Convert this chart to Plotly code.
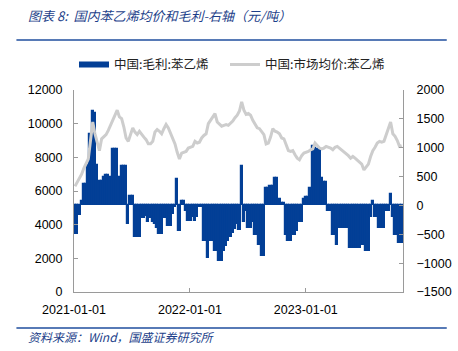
import pandas as pd
import plotly.graph_objects as go

# weekly observations
dates = pd.date_range(start="2021-01-04", periods=148, freq="7D")

price = [6280, 6500, 6770, 7000, 7350, 7600, 7900, 9000, 10100, 9400,
         8800, 8400, 9100, 9200, 9350, 9600, 9900, 10100, 10450, 10800,
         10400, 10300, 9800, 9150, 8950, 9300, 9750, 9500, 9350, 9550,
         9350, 9200, 9050, 8800, 8800, 8950, 9500, 9650, 9550, 9400,
         9700, 9950, 9750, 9450, 9150, 8800, 8300, 7900, 8250, 8300,
         8350, 8550, 8600, 8650, 8950, 8850, 8900, 9150, 9300, 9400,
         10000, 10200, 10400, 10600, 10100, 9950, 9850, 9900, 9950, 9900,
         10000, 10150, 10350, 10500, 10750, 11300, 10800, 10550, 10600, 10500,
         10200, 10000, 9750, 9700, 9500, 9350, 8800, 8850, 9200, 9700,
         9550, 9500, 9400, 9150, 9100, 8750, 8400, 8350, 8400, 8150,
         7950, 7850, 8100, 8250, 8300, 8350, 8450, 8500, 8850, 8700,
         8550, 8500, 8550, 8650, 8600, 8550, 8450, 8600, 8650, 8550,
         8450, 8350, 8250, 8100, 7950, 8050, 7950, 7850, 7750, 7600,
         7250, 7400, 7600, 8050, 8400, 8600, 8850, 8950, 8900, 8950,
         9300, 9700, 10100, 9400, 9250, 9000, 8650, 8700]

margin = [-500, -500, -160, 80, 370, 370, 700, 1230, 1630, 1600,
          700, 420, 420, 500, 530, 530, 500, 970, 970, 970,
          500, 680, 680, 680, -320, 160, 160, -550, -550, -550,
          -220, -220, -180, -290, -220, -280, -330, -390, -500, -500,
          -220, -220, -360, -360, -150, -30, 450, -450, 80, 80,
          -100, -270, -270, -200, -270, -200, -30, -30, -620, -620,
          -910, -620, -620, -790, -790, -970, -970, -790, -700, -620,
          -550, -480, -400, -320, -420, 680, -280, -100, -390, -390,
          -280, -510, -510, -680, -880, -880, 300, 300, 330, 330,
          480, 480, 120, 50, 50, -510, -620, -620, -510, -510,
          -450, -280, -280, 120, 150, 150, 300, 1030, 1000, 970,
          970, 480, 400, 400, -100, -100, -510, -510, -680, -390,
          -390, -390, -390, -390, -740, -740, -740, -740, -740, -680,
          -680, -790, -790, -200, 80, -200, -200, -390, -390, -390,
          -100, -100, 190, -200, -510, -510, -650, -650]

name_margin = "中国:毛利:苯乙烯"
name_price = "中国:市场均价:苯乙烯"
title_text = "图表 8:  国内苯乙烯均价和毛利-右轴（元/吨）"
source_text = "资料来源：Wind，国盛证券研究所"

BLUE = "#033f96"
GRAY = "#cdcdcd"
AXIS = "#9a9a9a"
TXT_BLUE = "#1d3f8a"
CJK = "Noto Sans CJK SC"
NUM = "Liberation Sans"

fig = go.Figure()
fig.add_trace(go.Bar(x=dates, y=margin, marker=dict(color=BLUE, line=dict(width=1.2, color=BLUE)),
                     yaxis="y", showlegend=False, name=name_margin))
fig.add_trace(go.Scatter(x=dates, y=price, mode="lines", line=dict(color=GRAY, width=3),
                         yaxis="y2", showlegend=False, name=name_price))
# legend entries
fig.add_trace(go.Scatter(x=[None], y=[None], mode="lines", line=dict(color=BLUE, width=6),
                         name=name_margin, yaxis="y", legend="legend"))
fig.add_trace(go.Scatter(x=[None], y=[None], mode="lines", line=dict(color=GRAY, width=3),
                         name=name_price, yaxis="y", legend="legend2"))

leg_font = dict(family=CJK, size=12.5, color="#222222")
fig.update_layout(
    width=458, height=351,
    margin=dict(l=74, r=55, t=90, b=59, autoexpand=False),
    paper_bgcolor="white", plot_bgcolor="white",
    bargap=0,
    font=dict(family=NUM, size=12.5, color="#000000"),
    xaxis=dict(type="date", range=["2021-01-01", "2023-11-03"],
               tick0="2021-01-01", dtick="M12", tickformat="%Y-%m-%d",
               showgrid=False, zeroline=False, showline=True, linecolor=AXIS, linewidth=1,
               ticks="inside", ticklen=4, tickcolor=AXIS, ticklabelstandoff=6),
    yaxis=dict(side="right", range=[-1500, 2000], dtick=500, tickformat="d",
               showgrid=False, zeroline=False,
               showline=True, linecolor=AXIS, linewidth=1, ticks="inside", ticklen=4,
               tickcolor=AXIS, ticklabelstandoff=10),
    yaxis2=dict(side="left", overlaying="y", range=[0, 12000], dtick=2000, tickformat="d",
                showgrid=False,
                zeroline=False, showline=True, linecolor=AXIS, linewidth=1, ticks="inside",
                ticklen=4, tickcolor=AXIS, ticklabelstandoff=8),
    legend=dict(orientation="h", x=0.0, xanchor="left", y=1.125, yanchor="middle",
                font=leg_font, bgcolor="rgba(0,0,0,0)"),
    legend2=dict(orientation="h", x=0.459, xanchor="left", y=1.125, yanchor="middle",
                 font=leg_font, bgcolor="rgba(0,0,0,0)"),
    shapes=[
        dict(type="line", xref="paper", yref="paper", x0=-0.175, x1=1.133, y0=1.2475, y1=1.2475,
             line=dict(color="#1f4e9e", width=1.6)),
        dict(type="line", xref="paper", yref="paper", x0=-0.175, x1=1.133, y0=-0.178, y1=-0.178,
             line=dict(color="#1f4e9e", width=1.6)),
    ],
    annotations=[
        dict(text=title_text, xref="paper", yref="paper", x=-0.146, y=1.37, xanchor="left",
             yanchor="middle", showarrow=False,
             font=dict(family=CJK, size=13, color=TXT_BLUE, style="italic")),
        dict(text=source_text, xref="paper", yref="paper", x=-0.146, y=-0.222, xanchor="left",
             yanchor="middle", showarrow=False,
             font=dict(family=CJK, size=12, color=TXT_BLUE, style="italic")),
    ],
)

fig.write_html("out.html")
